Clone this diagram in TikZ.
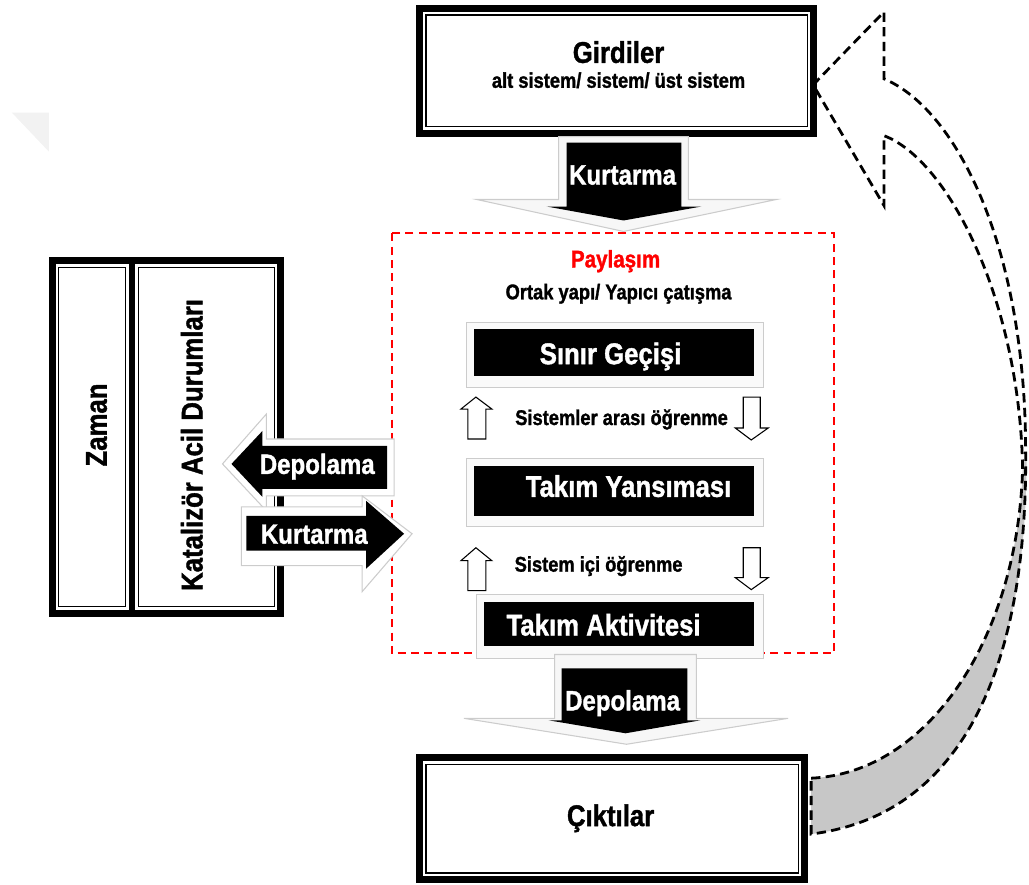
\documentclass[tikz,border=0pt]{standalone}
\usepackage{fontspec}
\usepackage{tikz}
\usetikzlibrary{positioning}
\newfontfamily\condf{Liberation Sans}[FakeStretch=0.86,FakeBold=1.3]

\begin{document}
\begin{tikzpicture}[x=0.75pt,y=0.75pt,yscale=-1,xscale=1,
  band/.style={line width=5.25pt},
  thinframe/.style={line width=0.9pt},
  shade3d/.style={fill=white,draw=gray!40,line width=0.8pt},
  hollow/.style={fill=white,draw=black,line width=0.8pt,line join=miter},
  bigtxt/.style={font=\condf\bfseries\fontsize{22.5}{24}\selectfont,anchor=base,inner sep=0pt},
  smalltxt/.style={font=\condf\bfseries\fontsize{16}{18}\selectfont,anchor=base,inner sep=0pt},
  arrtxt/.style={font=\condf\bfseries\fontsize{21}{23}\selectfont,text=white,anchor=base,inner sep=0pt}]
%set diagram size 1029 x 887
\path (0,0) rectangle (1029,887);

%Shape: faint corner
\fill[gray!10] (12,113) -- (49,113) -- (49,152) -- cycle;

%Shape: curved return arrow (lower part shaded)
\fill[black!22] (813,780) .. controls (930,775) and (1020,640) .. (1025,470) -- (1029,452) .. controls (1030,640) and (980,815) .. (813,836) -- cycle;
\draw[line width=2.1pt,dash pattern=on 7pt off 4pt,line join=miter] (813,780) .. controls (930,775) and (1020,640) .. (1025,470) .. controls (1022,300) and (950,160) .. (886,136) -- (886,206) -- (815,85) -- (886,12) -- (886,79) .. controls (960,110) and (1028,250) .. (1028,452) .. controls (1030,640) and (980,815) .. (813,836) -- cycle;

%Shape: Girdiler frame
\draw[band] (420.5,8.5) rectangle (815.5,133.5);
\draw[thinframe] (427,15) rectangle (809,127);
%Shape: Ciktilar frame
\draw[band] (420.5,759.5) rectangle (806.5,881.5);
\draw[thinframe] (427,766) rectangle (800,875);
%Shape: left frame
\draw[band] (52.5,261.5) rectangle (281.5,614.5);
\draw[line width=4.5pt] (132.5,258) -- (132.5,618);
\draw[thinframe] (59,268) rectangle (126,608);
\draw[thinframe] (139,268) rectangle (275,608);

%Shape: red dashed area
\draw[red,line width=1.5pt,dash pattern=on 6pt off 4pt] (393,234) rectangle (836,655);

%Shape: black bars
\draw[shade3d,fill=gray!4] (468,323) rectangle (765,388);
\fill (475,330) rectangle (756,377);
\draw[shade3d,fill=gray!4] (468,460) rectangle (765,528);
\fill (475,467) rectangle (756,517);
\draw[shade3d,fill=gray!4] (478,596) rectangle (765,660);
\fill (485,603) rectangle (756,648);

%Shape: hollow arrows
\draw[hollow] (469,440) -- (469,410) -- (462,410) -- (477,398) -- (493,410) -- (487,410) -- (487,440) -- cycle;
\draw[hollow] (745,398) -- (762,398) -- (762,429) -- (770,429) -- (753,441) -- (737,429) -- (745,429) -- cycle;
\draw[hollow] (469,592) -- (469,562) -- (462,562) -- (477,549) -- (493,562) -- (487,562) -- (487,592) -- cycle;
\draw[hollow] (745,549) -- (762,549) -- (762,579) -- (770,579) -- (753,591) -- (737,579) -- (745,579) -- cycle;

%Shape: top block arrow
\draw[shade3d,fill=gray!6] (560,137) -- (690,137) -- (690,200) -- (778,200) -- (625,232) -- (478,200) -- (560,200) -- cycle;
\fill (568,143) -- (683,143) -- (683,207) -- (703,207) -- (625,221) -- (548,207) -- (568,207) -- cycle;
%Shape: bottom block arrow
\draw[shade3d,fill=gray!6] (556,656) -- (698,656) -- (698,720) -- (790,720) -- (628,746) -- (465,720) -- (556,720) -- cycle;
\fill (563,670) -- (689,670) -- (689,722) -- (702,722) -- (627,735) -- (550,722) -- (563,722) -- cycle;
%Shape: left block arrow
\draw[shade3d] (395,440) -- (267,440) -- (267,415) -- (223,465) -- (267,512) -- (267,497) -- (395,497) -- cycle;
\fill (388,447) -- (263,447) -- (263,432) -- (232,465) -- (263,498) -- (263,490) -- (388,490) -- cycle;
%Shape: right block arrow
\draw[shade3d] (242,508) -- (363,508) -- (363,497) -- (413,535) -- (363,593) -- (363,567) -- (242,567) -- cycle;
\fill (247,517) -- (367,517) -- (367,502) -- (405,535) -- (367,570) -- (367,552) -- (247,552) -- cycle;

% Text Node
\node[bigtxt] (girdiler) at (620,63) {Girdiler};
% Text Node
\node[smalltxt] (altsistem) at (620,88) {alt sistem/ sistem/ üst sistem};
% Text Node
\node[arrtxt] (kurtarmaUst) at (624,185) {Kurtarma};
% Text Node
\node[smalltxt,text=red,font=\condf\bfseries\fontsize{18}{20}\selectfont] (paylasim) at (617,268) {Paylaşım};
% Text Node
\node[smalltxt] (ortak) at (620,300) {Ortak yapı/ Yapıcı çatışma};
% Text Node
\node[bigtxt,text=white] (sinir) at (612,365) {Sınır Geçişi};
% Text Node
\node[smalltxt] (sistemler) at (623,426) {Sistemler arası öğrenme};
% Text Node
\node[bigtxt,text=white] (yansima) at (630,498) {Takım Yansıması};
% Text Node
\node[smalltxt] (sistemici) at (600,573) {Sistem içi öğrenme};
% Text Node
\node[bigtxt,text=white] (aktivite) at (605,637) {Takım Aktivitesi};
% Text Node
\node[arrtxt] (depolamaAlt) at (624,712) {Depolama};
% Text Node
\node[bigtxt] (ciktilar) at (612,828) {Çıktılar};
% Text Node
\node[bigtxt,rotate=90] (zaman) at (107,426) {Zaman};
% Text Node
\node[bigtxt,rotate=90] (katalizor) at (203,446) {Katalizör Acil Durumları};
% Text Node
\node[arrtxt] (depolamaSol) at (318,475) {Depolama};
% Text Node
\node[arrtxt] (kurtarmaSag) at (315,545) {Kurtarma};
\end{tikzpicture}
\end{document}
